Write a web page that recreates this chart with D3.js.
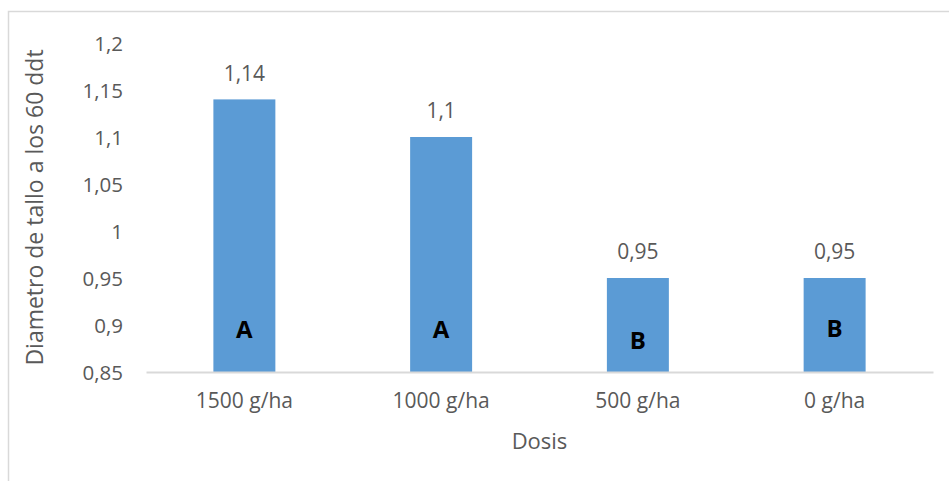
<!DOCTYPE html>
<html>
<head>
<meta charset="utf-8">
<script src="https://cdn.jsdelivr.net/npm/d3@7"></script>
<style>
  html, body { margin: 0; padding: 0; background: #fff; }
  svg { display: block; }
  text { font-family: "Open Sans", "Noto Sans", sans-serif; }
</style>
</head>
<body>
<svg id="chart" width="949" height="481"></svg>
<script>
// Stem diameter by dose
const categories = ["1500 g/ha", "1000 g/ha", "500 g/ha", "0 g/ha"];
const values = [1.14, 1.10, 0.95, 0.95];
const valueLabels = ["1,14", "1,1", "0,95", "0,95"];
const groupLetters = ["A", "A", "B", "B"];
const yTicks = [0.85, 0.9, 0.95, 1, 1.05, 1.1, 1.15, 1.2];
const yTickLabels = ["0,85", "0,9", "0,95", "1", "1,05", "1,1", "1,15", "1,2"];
const yTitle = "Diametro de tallo a los 60 ddt";
const xTitle = "Dosis";

const svg = d3.select("#chart");
const W = 949, H = 481;
const plot = { left: 146, right: 933, top: 43, bottom: 372 };
const textColor = "#595959";
const lineColor = "#D9D9D9";
const barColor = "#5B9BD5";

// chart frame (runs past the right and bottom edges)
svg.append("rect")
  .attr("x", 8.5).attr("y", 11.5)
  .attr("width", W + 20).attr("height", H + 20)
  .attr("fill", "#fff").attr("stroke", lineColor).attr("stroke-width", 1.5);

const x = d3.scaleBand().domain(categories).range([plot.left, plot.right])
  .paddingInner(0.685).paddingOuter(0.3425);
const y = d3.scaleLinear().domain([0.85, 1.2]).range([plot.bottom, plot.top]);

// y axis: labels only
const yAxis = d3.axisLeft(y).tickValues(yTicks)
  .tickFormat((d, i) => yTickLabels[i]).tickSize(0).tickPadding(0);
const gy = svg.append("g").attr("transform", `translate(${plot.left - 23},0)`).call(yAxis);
gy.select(".domain").remove();
gy.selectAll("text").attr("fill", textColor).attr("font-size", 20.5)
  .attr("font-family", '"Open Sans", sans-serif').attr("dy", "0.35em");

// bars
svg.append("g").selectAll("rect").data(values).join("rect")
  .attr("x", (d, i) => x(categories[i]))
  .attr("y", d => y(d))
  .attr("width", x.bandwidth())
  .attr("height", d => y(0.85) - y(d))
  .attr("fill", barColor);

// x axis
const xAxis = d3.axisBottom(x).tickSize(0).tickPadding(21);
const gx = svg.append("g").attr("transform", `translate(0,${plot.bottom})`).call(xAxis);
gx.select(".domain").attr("stroke", lineColor).attr("stroke-width", 2);
gx.selectAll("text").attr("fill", textColor).attr("font-size", 21)
  .attr("font-family", '"Open Sans", sans-serif');

// value labels
svg.append("g").selectAll("text").data(values).join("text")
  .attr("x", (d, i) => x(categories[i]) + x.bandwidth() / 2)
  .attr("y", d => y(d) - 26)
  .attr("dy", "0.35em")
  .attr("text-anchor", "middle")
  .attr("font-size", 21)
  .attr("fill", textColor)
  .text((d, i) => valueLabels[i]);

// significance letters
const letterY = [330, 330, 341, 329];
svg.append("g").selectAll("text").data(groupLetters).join("text")
  .attr("x", (d, i) => x(categories[i]) + x.bandwidth() / 2)
  .attr("y", (d, i) => letterY[i])
  .attr("dy", "0.35em")
  .attr("text-anchor", "middle")
  .attr("font-size", 24)
  .attr("font-weight", "bold")
  .attr("fill", "#000")
  .text(d => d);

// axis titles
svg.append("text")
  .attr("transform", `translate(35,${(plot.top + plot.bottom) / 2}) rotate(-90)`)
  .attr("text-anchor", "middle").attr("dy", "0.35em")
  .attr("font-size", 23).attr("fill", textColor)
  .text(yTitle);

svg.append("text")
  .attr("x", (plot.left + plot.right) / 2).attr("y", 441)
  .attr("text-anchor", "middle").attr("dy", "0.35em")
  .attr("font-size", 22).attr("fill", textColor)
  .text(xTitle);
</script>
</body>
</html>
